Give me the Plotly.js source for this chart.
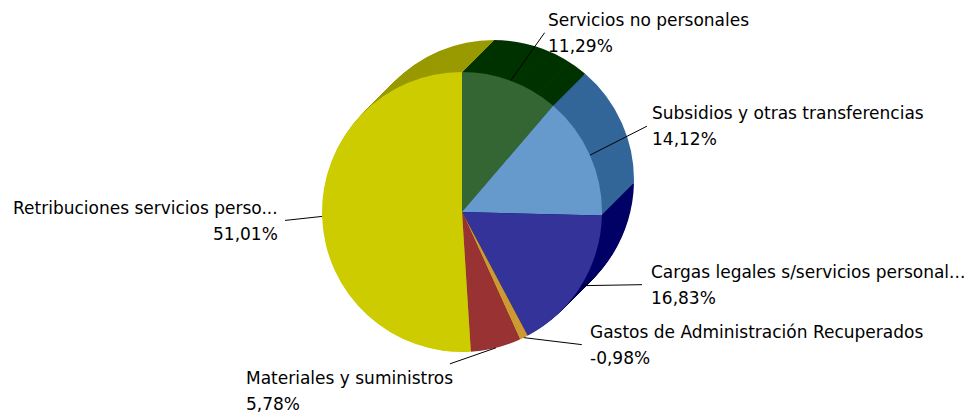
<!DOCTYPE html>
<html><head><meta charset="utf-8">
<script src="https://cdn.plot.ly/plotly-3.0.1.min.js"></script>
<style>html,body{margin:0;padding:0;background:#fff}#chart{width:966px;height:413px}</style>
</head><body><div id="chart"></div>
<script>
// ---- data ----
const categories = ["Servicios no personales", "Subsidios y otras transferencias", "Cargas legales s/servicios personal...", "Gastos de Administración Recuperados", "Materiales y suministros", "Retribuciones servicios perso..."];
const values = [11.29, 14.12, 16.83, -0.98, 5.78, 51.01];
const percentLabels = ["11,29%", "14,12%", "16,83%", "-0,98%", "5,78%", "51,01%"];

// ---- styles ----
const frontColors = ["#336633", "#6699CC", "#333399", "#CC9933", "#993333", "#CCCC00"];
const sideColors  = ["#003300", "#336699", "#000066", "#996600", "#660000", "#999900"];
const W = 966, H = 413, CX = 462, CY = 212, R = 140, DEPTH = 32;
const LINE_GAP = 13;
// leader tail offset (ax, ay) and text-block anchor offset (tx, ty) from slice tip, in px
const labelPlace = [
  {ax: 34,  ay: -48, tx: 37,   ty: -48, xa: 'left'},
  {ax: 57,  ay: -29, tx: 62,   ty: -29, xa: 'left'},
  {ax: 61,  ay: -1,  tx: 70,   ty: -1,  xa: 'left'},
  {ax: 58,  ay: 7,   tx: 66,   ty: 7,   xa: 'left'},
  {ax: -46, ay: 16,  tx: -250, ty: 43,  xa: 'left'},
  {ax: -37, ay: 4,   tx: -44,  ty: 5,   xa: 'right'}
];
const FONT = {family: "DejaVu Sans, sans-serif", size: 17, color: "#000"};

const sizes = values.map(v => Math.abs(v));

function pieAt(k, colors) {
  const cx = CX + k, cy = CY - k;
  return {
    type: 'pie', values: sizes, labels: categories, sort: false,
    direction: 'clockwise', rotation: 0, textinfo: 'none', hoverinfo: 'skip',
    marker: {colors: colors, line: {width: 0}},
    showlegend: false,
    domain: {x: [(cx - R) / W, (cx + R) / W], y: [1 - (cy + R) / H, 1 - (cy - R) / H]}
  };
}

const traces = [];
for (let k = DEPTH; k >= 1; k--) traces.push(pieAt(k, sideColors));
traces.push(pieAt(0, frontColors));

// annotations: leader line tips at front rim, mid-angle of each slice
const total = sizes.reduce((a, b) => a + b, 0);
let cum = 0;
const annotations = [];
categories.forEach((c, i) => {
  const mid = (cum + sizes[i] / 2) / total * 2 * Math.PI;
  cum += sizes[i];
  const px = CX + R * Math.sin(mid), py = CY - R * Math.cos(mid);
  const p = labelPlace[i];
  const base = {xref: 'paper', yref: 'paper', x: px / W, y: 1 - py / H};
  // leader line (arrow only)
  annotations.push(Object.assign({}, base, {
    text: '', borderpad: 0, borderwidth: 0,
    showarrow: true, arrowhead: 0, arrowwidth: 1, arrowcolor: '#000',
    ax: p.ax, ay: p.ay, xanchor: 'center', yanchor: 'middle'
  }));
  // two text lines
  [c, percentLabels[i]].forEach((t, j) => {
    annotations.push(Object.assign({}, base, {
      text: t, showarrow: false, font: FONT, borderpad: 0, borderwidth: 0,
      xanchor: p.xa, yanchor: 'middle', align: p.xa,
      xshift: p.tx, yshift: -(p.ty + (j === 0 ? -LINE_GAP : LINE_GAP))
    }));
  });
});

Plotly.newPlot('chart', traces, {
  width: W, height: H, margin: {l: 0, r: 0, t: 0, b: 0},
  paper_bgcolor: '#fff', showlegend: false, annotations: annotations
}, {staticPlot: true});
</script></body></html>
